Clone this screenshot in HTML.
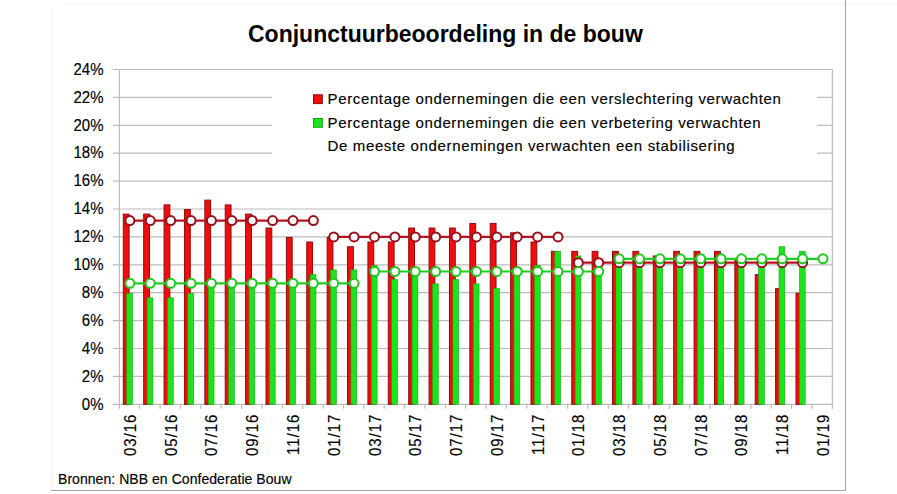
<!DOCTYPE html><html><head><meta charset="utf-8"><style>html,body{margin:0;padding:0;background:#fff;}svg{display:block;}text{font-family:"Liberation Sans",sans-serif;fill:#000;stroke:#000;stroke-width:0.15px;}</style></head><body>
<svg width="897" height="494" viewBox="0 0 897 494">
<rect width="897" height="494" fill="#fff"/>
<line x1="51.5" y1="7" x2="51.5" y2="491" stroke="#f7f7f7" stroke-width="2"/>
<rect x="64" y="1" width="833" height="5" fill="#fbfbfb"/>
<line x1="845.5" y1="0" x2="845.5" y2="491" stroke="#a8a8a8" stroke-width="1.2"/>
<line x1="51" y1="490.5" x2="846" y2="490.5" stroke="#a8a8a8" stroke-width="1.2"/>
<line x1="112.7" y1="404.30" x2="832.35" y2="404.30" stroke="#bcbcbc" stroke-width="1.2"/>
<line x1="112.7" y1="376.40" x2="832.35" y2="376.40" stroke="#bcbcbc" stroke-width="1.2"/>
<line x1="112.7" y1="348.50" x2="832.35" y2="348.50" stroke="#bcbcbc" stroke-width="1.2"/>
<line x1="112.7" y1="320.60" x2="832.35" y2="320.60" stroke="#bcbcbc" stroke-width="1.2"/>
<line x1="112.7" y1="292.70" x2="832.35" y2="292.70" stroke="#bcbcbc" stroke-width="1.2"/>
<line x1="112.7" y1="264.80" x2="832.35" y2="264.80" stroke="#bcbcbc" stroke-width="1.2"/>
<line x1="112.7" y1="236.90" x2="832.35" y2="236.90" stroke="#bcbcbc" stroke-width="1.2"/>
<line x1="112.7" y1="209.00" x2="832.35" y2="209.00" stroke="#bcbcbc" stroke-width="1.2"/>
<line x1="112.7" y1="181.10" x2="832.35" y2="181.10" stroke="#bcbcbc" stroke-width="1.2"/>
<line x1="112.7" y1="153.20" x2="832.35" y2="153.20" stroke="#bcbcbc" stroke-width="1.2"/>
<line x1="112.7" y1="125.30" x2="832.35" y2="125.30" stroke="#bcbcbc" stroke-width="1.2"/>
<line x1="112.7" y1="97.40" x2="832.35" y2="97.40" stroke="#bcbcbc" stroke-width="1.2"/>
<line x1="112.7" y1="69.50" x2="832.35" y2="69.50" stroke="#bcbcbc" stroke-width="1.2"/>
<line x1="119.40" y1="69.50" x2="119.40" y2="408.80" stroke="#bcbcbc" stroke-width="1.2"/>
<line x1="832.35" y1="69.50" x2="832.35" y2="408.80" stroke="#bcbcbc" stroke-width="1.2"/>
<line x1="139.77" y1="404.30" x2="139.77" y2="408.80" stroke="#bcbcbc" stroke-width="1.2"/>
<line x1="160.14" y1="404.30" x2="160.14" y2="408.80" stroke="#bcbcbc" stroke-width="1.2"/>
<line x1="180.51" y1="404.30" x2="180.51" y2="408.80" stroke="#bcbcbc" stroke-width="1.2"/>
<line x1="200.88" y1="404.30" x2="200.88" y2="408.80" stroke="#bcbcbc" stroke-width="1.2"/>
<line x1="221.25" y1="404.30" x2="221.25" y2="408.80" stroke="#bcbcbc" stroke-width="1.2"/>
<line x1="241.62" y1="404.30" x2="241.62" y2="408.80" stroke="#bcbcbc" stroke-width="1.2"/>
<line x1="261.99" y1="404.30" x2="261.99" y2="408.80" stroke="#bcbcbc" stroke-width="1.2"/>
<line x1="282.36" y1="404.30" x2="282.36" y2="408.80" stroke="#bcbcbc" stroke-width="1.2"/>
<line x1="302.73" y1="404.30" x2="302.73" y2="408.80" stroke="#bcbcbc" stroke-width="1.2"/>
<line x1="323.10" y1="404.30" x2="323.10" y2="408.80" stroke="#bcbcbc" stroke-width="1.2"/>
<line x1="343.47" y1="404.30" x2="343.47" y2="408.80" stroke="#bcbcbc" stroke-width="1.2"/>
<line x1="363.84" y1="404.30" x2="363.84" y2="408.80" stroke="#bcbcbc" stroke-width="1.2"/>
<line x1="384.21" y1="404.30" x2="384.21" y2="408.80" stroke="#bcbcbc" stroke-width="1.2"/>
<line x1="404.58" y1="404.30" x2="404.58" y2="408.80" stroke="#bcbcbc" stroke-width="1.2"/>
<line x1="424.95" y1="404.30" x2="424.95" y2="408.80" stroke="#bcbcbc" stroke-width="1.2"/>
<line x1="445.32" y1="404.30" x2="445.32" y2="408.80" stroke="#bcbcbc" stroke-width="1.2"/>
<line x1="465.69" y1="404.30" x2="465.69" y2="408.80" stroke="#bcbcbc" stroke-width="1.2"/>
<line x1="486.06" y1="404.30" x2="486.06" y2="408.80" stroke="#bcbcbc" stroke-width="1.2"/>
<line x1="506.43" y1="404.30" x2="506.43" y2="408.80" stroke="#bcbcbc" stroke-width="1.2"/>
<line x1="526.80" y1="404.30" x2="526.80" y2="408.80" stroke="#bcbcbc" stroke-width="1.2"/>
<line x1="547.17" y1="404.30" x2="547.17" y2="408.80" stroke="#bcbcbc" stroke-width="1.2"/>
<line x1="567.54" y1="404.30" x2="567.54" y2="408.80" stroke="#bcbcbc" stroke-width="1.2"/>
<line x1="587.91" y1="404.30" x2="587.91" y2="408.80" stroke="#bcbcbc" stroke-width="1.2"/>
<line x1="608.28" y1="404.30" x2="608.28" y2="408.80" stroke="#bcbcbc" stroke-width="1.2"/>
<line x1="628.65" y1="404.30" x2="628.65" y2="408.80" stroke="#bcbcbc" stroke-width="1.2"/>
<line x1="649.02" y1="404.30" x2="649.02" y2="408.80" stroke="#bcbcbc" stroke-width="1.2"/>
<line x1="669.39" y1="404.30" x2="669.39" y2="408.80" stroke="#bcbcbc" stroke-width="1.2"/>
<line x1="689.76" y1="404.30" x2="689.76" y2="408.80" stroke="#bcbcbc" stroke-width="1.2"/>
<line x1="710.13" y1="404.30" x2="710.13" y2="408.80" stroke="#bcbcbc" stroke-width="1.2"/>
<line x1="730.50" y1="404.30" x2="730.50" y2="408.80" stroke="#bcbcbc" stroke-width="1.2"/>
<line x1="750.87" y1="404.30" x2="750.87" y2="408.80" stroke="#bcbcbc" stroke-width="1.2"/>
<line x1="771.24" y1="404.30" x2="771.24" y2="408.80" stroke="#bcbcbc" stroke-width="1.2"/>
<line x1="791.61" y1="404.30" x2="791.61" y2="408.80" stroke="#bcbcbc" stroke-width="1.2"/>
<line x1="811.98" y1="404.30" x2="811.98" y2="408.80" stroke="#bcbcbc" stroke-width="1.2"/>
<rect x="123.30" y="214.10" width="5.80" height="190.20" fill="#f20c0c" stroke="#8e0c0c" stroke-width="1"/>
<rect x="143.69" y="214.10" width="5.80" height="190.20" fill="#f20c0c" stroke="#8e0c0c" stroke-width="1"/>
<rect x="164.07" y="204.90" width="5.80" height="199.40" fill="#f20c0c" stroke="#8e0c0c" stroke-width="1"/>
<rect x="184.46" y="209.50" width="5.80" height="194.80" fill="#f20c0c" stroke="#8e0c0c" stroke-width="1"/>
<rect x="204.84" y="200.15" width="5.80" height="204.15" fill="#f20c0c" stroke="#8e0c0c" stroke-width="1"/>
<rect x="225.23" y="204.90" width="5.80" height="199.40" fill="#f20c0c" stroke="#8e0c0c" stroke-width="1"/>
<rect x="245.61" y="214.10" width="5.80" height="190.20" fill="#f20c0c" stroke="#8e0c0c" stroke-width="1"/>
<rect x="266.00" y="228.05" width="5.80" height="176.25" fill="#f20c0c" stroke="#8e0c0c" stroke-width="1"/>
<rect x="286.38" y="237.40" width="5.80" height="166.90" fill="#f20c0c" stroke="#8e0c0c" stroke-width="1"/>
<rect x="306.76" y="242.00" width="5.80" height="162.30" fill="#f20c0c" stroke="#8e0c0c" stroke-width="1"/>
<rect x="327.15" y="237.40" width="5.80" height="166.90" fill="#f20c0c" stroke="#8e0c0c" stroke-width="1"/>
<rect x="347.53" y="246.75" width="5.80" height="157.55" fill="#f20c0c" stroke="#8e0c0c" stroke-width="1"/>
<rect x="367.92" y="242.00" width="5.80" height="162.30" fill="#f20c0c" stroke="#8e0c0c" stroke-width="1"/>
<rect x="388.30" y="242.00" width="5.80" height="162.30" fill="#f20c0c" stroke="#8e0c0c" stroke-width="1"/>
<rect x="408.69" y="228.05" width="5.80" height="176.25" fill="#f20c0c" stroke="#8e0c0c" stroke-width="1"/>
<rect x="429.08" y="228.05" width="5.80" height="176.25" fill="#f20c0c" stroke="#8e0c0c" stroke-width="1"/>
<rect x="449.46" y="228.05" width="5.80" height="176.25" fill="#f20c0c" stroke="#8e0c0c" stroke-width="1"/>
<rect x="469.85" y="223.45" width="5.80" height="180.85" fill="#f20c0c" stroke="#8e0c0c" stroke-width="1"/>
<rect x="490.23" y="223.45" width="5.80" height="180.85" fill="#f20c0c" stroke="#8e0c0c" stroke-width="1"/>
<rect x="510.62" y="232.80" width="5.80" height="171.50" fill="#f20c0c" stroke="#8e0c0c" stroke-width="1"/>
<rect x="531.00" y="242.00" width="5.80" height="162.30" fill="#f20c0c" stroke="#8e0c0c" stroke-width="1"/>
<rect x="551.38" y="251.35" width="5.80" height="152.95" fill="#f20c0c" stroke="#8e0c0c" stroke-width="1"/>
<rect x="571.77" y="251.35" width="5.80" height="152.95" fill="#f20c0c" stroke="#8e0c0c" stroke-width="1"/>
<rect x="592.15" y="251.35" width="5.80" height="152.95" fill="#f20c0c" stroke="#8e0c0c" stroke-width="1"/>
<rect x="612.54" y="251.35" width="5.80" height="152.95" fill="#f20c0c" stroke="#8e0c0c" stroke-width="1"/>
<rect x="632.93" y="251.35" width="5.80" height="152.95" fill="#f20c0c" stroke="#8e0c0c" stroke-width="1"/>
<rect x="653.31" y="255.95" width="5.80" height="148.35" fill="#f20c0c" stroke="#8e0c0c" stroke-width="1"/>
<rect x="673.70" y="251.35" width="5.80" height="152.95" fill="#f20c0c" stroke="#8e0c0c" stroke-width="1"/>
<rect x="694.08" y="251.35" width="5.80" height="152.95" fill="#f20c0c" stroke="#8e0c0c" stroke-width="1"/>
<rect x="714.47" y="251.35" width="5.80" height="152.95" fill="#f20c0c" stroke="#8e0c0c" stroke-width="1"/>
<rect x="734.85" y="260.70" width="5.80" height="143.60" fill="#f20c0c" stroke="#8e0c0c" stroke-width="1"/>
<rect x="755.24" y="274.65" width="5.80" height="129.65" fill="#f20c0c" stroke="#8e0c0c" stroke-width="1"/>
<rect x="775.62" y="288.60" width="5.80" height="115.70" fill="#f20c0c" stroke="#8e0c0c" stroke-width="1"/>
<rect x="796.00" y="293.20" width="5.80" height="111.10" fill="#f20c0c" stroke="#8e0c0c" stroke-width="1"/>
<rect x="126.70" y="293.20" width="5.80" height="111.10" fill="#1ce41c" stroke="#13a813" stroke-width="0.6"/>
<rect x="147.09" y="297.80" width="5.80" height="106.50" fill="#1ce41c" stroke="#13a813" stroke-width="0.6"/>
<rect x="167.47" y="297.80" width="5.80" height="106.50" fill="#1ce41c" stroke="#13a813" stroke-width="0.6"/>
<rect x="187.86" y="293.20" width="5.80" height="111.10" fill="#1ce41c" stroke="#13a813" stroke-width="0.6"/>
<rect x="208.24" y="283.85" width="5.80" height="120.45" fill="#1ce41c" stroke="#13a813" stroke-width="0.6"/>
<rect x="228.63" y="283.85" width="5.80" height="120.45" fill="#1ce41c" stroke="#13a813" stroke-width="0.6"/>
<rect x="249.01" y="283.85" width="5.80" height="120.45" fill="#1ce41c" stroke="#13a813" stroke-width="0.6"/>
<rect x="269.40" y="283.85" width="5.80" height="120.45" fill="#1ce41c" stroke="#13a813" stroke-width="0.6"/>
<rect x="289.78" y="283.85" width="5.80" height="120.45" fill="#1ce41c" stroke="#13a813" stroke-width="0.6"/>
<rect x="310.17" y="274.65" width="5.80" height="129.65" fill="#1ce41c" stroke="#13a813" stroke-width="0.6"/>
<rect x="330.55" y="269.90" width="5.80" height="134.40" fill="#1ce41c" stroke="#13a813" stroke-width="0.6"/>
<rect x="350.94" y="269.90" width="5.80" height="134.40" fill="#1ce41c" stroke="#13a813" stroke-width="0.6"/>
<rect x="371.32" y="265.30" width="5.80" height="139.00" fill="#1ce41c" stroke="#13a813" stroke-width="0.6"/>
<rect x="391.70" y="279.25" width="5.80" height="125.05" fill="#1ce41c" stroke="#13a813" stroke-width="0.6"/>
<rect x="412.09" y="272.27" width="5.80" height="132.03" fill="#1ce41c" stroke="#13a813" stroke-width="0.6"/>
<rect x="432.48" y="283.85" width="5.80" height="120.45" fill="#1ce41c" stroke="#13a813" stroke-width="0.6"/>
<rect x="452.86" y="279.25" width="5.80" height="125.05" fill="#1ce41c" stroke="#13a813" stroke-width="0.6"/>
<rect x="473.25" y="283.85" width="5.80" height="120.45" fill="#1ce41c" stroke="#13a813" stroke-width="0.6"/>
<rect x="493.63" y="288.60" width="5.80" height="115.70" fill="#1ce41c" stroke="#13a813" stroke-width="0.6"/>
<rect x="514.01" y="272.27" width="5.80" height="132.03" fill="#1ce41c" stroke="#13a813" stroke-width="0.6"/>
<rect x="534.40" y="265.30" width="5.80" height="139.00" fill="#1ce41c" stroke="#13a813" stroke-width="0.6"/>
<rect x="554.78" y="251.35" width="5.80" height="152.95" fill="#1ce41c" stroke="#13a813" stroke-width="0.6"/>
<rect x="575.17" y="255.95" width="5.80" height="148.35" fill="#1ce41c" stroke="#13a813" stroke-width="0.6"/>
<rect x="595.55" y="268.09" width="5.80" height="136.21" fill="#1ce41c" stroke="#13a813" stroke-width="0.6"/>
<rect x="615.94" y="260.70" width="5.80" height="143.60" fill="#1ce41c" stroke="#13a813" stroke-width="0.6"/>
<rect x="636.33" y="260.70" width="5.80" height="143.60" fill="#1ce41c" stroke="#13a813" stroke-width="0.6"/>
<rect x="656.71" y="260.70" width="5.80" height="143.60" fill="#1ce41c" stroke="#13a813" stroke-width="0.6"/>
<rect x="677.10" y="260.70" width="5.80" height="143.60" fill="#1ce41c" stroke="#13a813" stroke-width="0.6"/>
<rect x="697.48" y="260.70" width="5.80" height="143.60" fill="#1ce41c" stroke="#13a813" stroke-width="0.6"/>
<rect x="717.87" y="260.70" width="5.80" height="143.60" fill="#1ce41c" stroke="#13a813" stroke-width="0.6"/>
<rect x="738.25" y="260.70" width="5.80" height="143.60" fill="#1ce41c" stroke="#13a813" stroke-width="0.6"/>
<rect x="758.63" y="260.70" width="5.80" height="143.60" fill="#1ce41c" stroke="#13a813" stroke-width="0.6"/>
<rect x="779.02" y="246.75" width="5.80" height="157.55" fill="#1ce41c" stroke="#13a813" stroke-width="0.6"/>
<rect x="799.40" y="251.35" width="5.80" height="152.95" fill="#1ce41c" stroke="#13a813" stroke-width="0.6"/>
<line x1="129.90" y1="220.58" x2="313.37" y2="220.58" stroke="#b8121e" stroke-width="2.2"/>
<circle cx="129.90" cy="220.58" r="4.5" fill="#fff" stroke="#9a0f1c" stroke-width="2"/>
<circle cx="150.28" cy="220.58" r="4.5" fill="#fff" stroke="#9a0f1c" stroke-width="2"/>
<circle cx="170.67" cy="220.58" r="4.5" fill="#fff" stroke="#9a0f1c" stroke-width="2"/>
<circle cx="191.06" cy="220.58" r="4.5" fill="#fff" stroke="#9a0f1c" stroke-width="2"/>
<circle cx="211.44" cy="220.58" r="4.5" fill="#fff" stroke="#9a0f1c" stroke-width="2"/>
<circle cx="231.83" cy="220.58" r="4.5" fill="#fff" stroke="#9a0f1c" stroke-width="2"/>
<circle cx="252.21" cy="220.58" r="4.5" fill="#fff" stroke="#9a0f1c" stroke-width="2"/>
<circle cx="272.60" cy="220.58" r="4.5" fill="#fff" stroke="#9a0f1c" stroke-width="2"/>
<circle cx="292.98" cy="220.58" r="4.5" fill="#fff" stroke="#9a0f1c" stroke-width="2"/>
<circle cx="313.37" cy="220.58" r="4.5" fill="#fff" stroke="#9a0f1c" stroke-width="2"/>
<line x1="333.75" y1="236.90" x2="557.99" y2="236.90" stroke="#b8121e" stroke-width="2.2"/>
<circle cx="333.75" cy="236.90" r="4.5" fill="#fff" stroke="#9a0f1c" stroke-width="2"/>
<circle cx="354.13" cy="236.90" r="4.5" fill="#fff" stroke="#9a0f1c" stroke-width="2"/>
<circle cx="374.52" cy="236.90" r="4.5" fill="#fff" stroke="#9a0f1c" stroke-width="2"/>
<circle cx="394.90" cy="236.90" r="4.5" fill="#fff" stroke="#9a0f1c" stroke-width="2"/>
<circle cx="415.29" cy="236.90" r="4.5" fill="#fff" stroke="#9a0f1c" stroke-width="2"/>
<circle cx="435.68" cy="236.90" r="4.5" fill="#fff" stroke="#9a0f1c" stroke-width="2"/>
<circle cx="456.06" cy="236.90" r="4.5" fill="#fff" stroke="#9a0f1c" stroke-width="2"/>
<circle cx="476.45" cy="236.90" r="4.5" fill="#fff" stroke="#9a0f1c" stroke-width="2"/>
<circle cx="496.83" cy="236.90" r="4.5" fill="#fff" stroke="#9a0f1c" stroke-width="2"/>
<circle cx="517.22" cy="236.90" r="4.5" fill="#fff" stroke="#9a0f1c" stroke-width="2"/>
<circle cx="537.60" cy="236.90" r="4.5" fill="#fff" stroke="#9a0f1c" stroke-width="2"/>
<circle cx="557.99" cy="236.90" r="4.5" fill="#fff" stroke="#9a0f1c" stroke-width="2"/>
<line x1="578.37" y1="262.71" x2="802.61" y2="262.71" stroke="#b8121e" stroke-width="2.2"/>
<circle cx="578.37" cy="262.71" r="4.5" fill="#fff" stroke="#9a0f1c" stroke-width="2"/>
<circle cx="598.75" cy="262.71" r="4.5" fill="#fff" stroke="#9a0f1c" stroke-width="2"/>
<circle cx="619.14" cy="262.71" r="4.5" fill="#fff" stroke="#9a0f1c" stroke-width="2"/>
<circle cx="639.53" cy="262.71" r="4.5" fill="#fff" stroke="#9a0f1c" stroke-width="2"/>
<circle cx="659.91" cy="262.71" r="4.5" fill="#fff" stroke="#9a0f1c" stroke-width="2"/>
<circle cx="680.30" cy="262.71" r="4.5" fill="#fff" stroke="#9a0f1c" stroke-width="2"/>
<circle cx="700.68" cy="262.71" r="4.5" fill="#fff" stroke="#9a0f1c" stroke-width="2"/>
<circle cx="721.07" cy="262.71" r="4.5" fill="#fff" stroke="#9a0f1c" stroke-width="2"/>
<circle cx="741.45" cy="262.71" r="4.5" fill="#fff" stroke="#9a0f1c" stroke-width="2"/>
<circle cx="761.84" cy="262.71" r="4.5" fill="#fff" stroke="#9a0f1c" stroke-width="2"/>
<circle cx="782.22" cy="262.71" r="4.5" fill="#fff" stroke="#9a0f1c" stroke-width="2"/>
<circle cx="802.61" cy="262.71" r="4.5" fill="#fff" stroke="#9a0f1c" stroke-width="2"/>
<line x1="129.90" y1="283.35" x2="354.13" y2="283.35" stroke="#22cc22" stroke-width="2.2"/>
<circle cx="129.90" cy="283.35" r="4.5" fill="#fff" stroke="#20c820" stroke-width="2"/>
<circle cx="150.28" cy="283.35" r="4.5" fill="#fff" stroke="#20c820" stroke-width="2"/>
<circle cx="170.67" cy="283.35" r="4.5" fill="#fff" stroke="#20c820" stroke-width="2"/>
<circle cx="191.06" cy="283.35" r="4.5" fill="#fff" stroke="#20c820" stroke-width="2"/>
<circle cx="211.44" cy="283.35" r="4.5" fill="#fff" stroke="#20c820" stroke-width="2"/>
<circle cx="231.83" cy="283.35" r="4.5" fill="#fff" stroke="#20c820" stroke-width="2"/>
<circle cx="252.21" cy="283.35" r="4.5" fill="#fff" stroke="#20c820" stroke-width="2"/>
<circle cx="272.60" cy="283.35" r="4.5" fill="#fff" stroke="#20c820" stroke-width="2"/>
<circle cx="292.98" cy="283.35" r="4.5" fill="#fff" stroke="#20c820" stroke-width="2"/>
<circle cx="313.37" cy="283.35" r="4.5" fill="#fff" stroke="#20c820" stroke-width="2"/>
<circle cx="333.75" cy="283.35" r="4.5" fill="#fff" stroke="#20c820" stroke-width="2"/>
<circle cx="354.13" cy="283.35" r="4.5" fill="#fff" stroke="#20c820" stroke-width="2"/>
<line x1="374.52" y1="271.50" x2="598.75" y2="271.50" stroke="#22cc22" stroke-width="2.2"/>
<circle cx="374.52" cy="271.50" r="4.5" fill="#fff" stroke="#20c820" stroke-width="2"/>
<circle cx="394.90" cy="271.50" r="4.5" fill="#fff" stroke="#20c820" stroke-width="2"/>
<circle cx="415.29" cy="271.50" r="4.5" fill="#fff" stroke="#20c820" stroke-width="2"/>
<circle cx="435.68" cy="271.50" r="4.5" fill="#fff" stroke="#20c820" stroke-width="2"/>
<circle cx="456.06" cy="271.50" r="4.5" fill="#fff" stroke="#20c820" stroke-width="2"/>
<circle cx="476.45" cy="271.50" r="4.5" fill="#fff" stroke="#20c820" stroke-width="2"/>
<circle cx="496.83" cy="271.50" r="4.5" fill="#fff" stroke="#20c820" stroke-width="2"/>
<circle cx="517.22" cy="271.50" r="4.5" fill="#fff" stroke="#20c820" stroke-width="2"/>
<circle cx="537.60" cy="271.50" r="4.5" fill="#fff" stroke="#20c820" stroke-width="2"/>
<circle cx="557.99" cy="271.50" r="4.5" fill="#fff" stroke="#20c820" stroke-width="2"/>
<circle cx="578.37" cy="271.50" r="4.5" fill="#fff" stroke="#20c820" stroke-width="2"/>
<circle cx="598.75" cy="271.50" r="4.5" fill="#fff" stroke="#20c820" stroke-width="2"/>
<line x1="619.14" y1="258.80" x2="822.99" y2="258.80" stroke="#22cc22" stroke-width="2.2"/>
<circle cx="619.14" cy="258.80" r="4.5" fill="#fff" stroke="#20c820" stroke-width="2"/>
<circle cx="639.53" cy="258.80" r="4.5" fill="#fff" stroke="#20c820" stroke-width="2"/>
<circle cx="659.91" cy="258.80" r="4.5" fill="#fff" stroke="#20c820" stroke-width="2"/>
<circle cx="680.30" cy="258.80" r="4.5" fill="#fff" stroke="#20c820" stroke-width="2"/>
<circle cx="700.68" cy="258.80" r="4.5" fill="#fff" stroke="#20c820" stroke-width="2"/>
<circle cx="721.07" cy="258.80" r="4.5" fill="#fff" stroke="#20c820" stroke-width="2"/>
<circle cx="741.45" cy="258.80" r="4.5" fill="#fff" stroke="#20c820" stroke-width="2"/>
<circle cx="761.84" cy="258.80" r="4.5" fill="#fff" stroke="#20c820" stroke-width="2"/>
<circle cx="782.22" cy="258.80" r="4.5" fill="#fff" stroke="#20c820" stroke-width="2"/>
<circle cx="802.61" cy="258.80" r="4.5" fill="#fff" stroke="#20c820" stroke-width="2"/>
<circle cx="822.99" cy="258.80" r="4.5" fill="#fff" stroke="#20c820" stroke-width="2"/>
<rect x="272" y="84" width="545" height="84" fill="#fff"/>
<rect x="313.5" y="94.8" width="8.8" height="8.8" fill="#f20c0c" stroke="#8e0c0c" stroke-width="1"/>
<rect x="313.5" y="118.5" width="8.8" height="8.8" fill="#1ce41c" stroke="#13a813" stroke-width="1"/>
<text x="327.5" y="104" font-size="15" letter-spacing="0.64">Percentage ondernemingen die een verslechtering verwachten</text>
<text x="327.5" y="127.5" font-size="15" letter-spacing="0.64">Percentage ondernemingen die een verbetering verwachten</text>
<text x="327.5" y="151" font-size="15" letter-spacing="0.64">De meeste ondernemingen verwachten een stabilisering</text>
<text transform="translate(103.5,409.50) scale(1,1.12)" font-size="15" text-anchor="end">0%</text>
<text transform="translate(103.5,381.60) scale(1,1.12)" font-size="15" text-anchor="end">2%</text>
<text transform="translate(103.5,353.70) scale(1,1.12)" font-size="15" text-anchor="end">4%</text>
<text transform="translate(103.5,325.80) scale(1,1.12)" font-size="15" text-anchor="end">6%</text>
<text transform="translate(103.5,297.90) scale(1,1.12)" font-size="15" text-anchor="end">8%</text>
<text transform="translate(103.5,270.00) scale(1,1.12)" font-size="15" text-anchor="end">10%</text>
<text transform="translate(103.5,242.10) scale(1,1.12)" font-size="15" text-anchor="end">12%</text>
<text transform="translate(103.5,214.20) scale(1,1.12)" font-size="15" text-anchor="end">14%</text>
<text transform="translate(103.5,186.30) scale(1,1.12)" font-size="15" text-anchor="end">16%</text>
<text transform="translate(103.5,158.40) scale(1,1.12)" font-size="15" text-anchor="end">18%</text>
<text transform="translate(103.5,130.50) scale(1,1.12)" font-size="15" text-anchor="end">20%</text>
<text transform="translate(103.5,102.60) scale(1,1.12)" font-size="15" text-anchor="end">22%</text>
<text transform="translate(103.5,74.70) scale(1,1.12)" font-size="15" text-anchor="end">24%</text>
<text transform="translate(135.90,413.6) rotate(-90) scale(1,1.07)" font-size="15" letter-spacing="1" text-anchor="end">03/16</text>
<text transform="translate(176.67,413.6) rotate(-90) scale(1,1.07)" font-size="15" letter-spacing="1" text-anchor="end">05/16</text>
<text transform="translate(217.44,413.6) rotate(-90) scale(1,1.07)" font-size="15" letter-spacing="1" text-anchor="end">07/16</text>
<text transform="translate(258.21,413.6) rotate(-90) scale(1,1.07)" font-size="15" letter-spacing="1" text-anchor="end">09/16</text>
<text transform="translate(298.98,413.6) rotate(-90) scale(1,1.07)" font-size="15" letter-spacing="1" text-anchor="end">11/16</text>
<text transform="translate(339.75,413.6) rotate(-90) scale(1,1.07)" font-size="15" letter-spacing="1" text-anchor="end">01/17</text>
<text transform="translate(380.52,413.6) rotate(-90) scale(1,1.07)" font-size="15" letter-spacing="1" text-anchor="end">03/17</text>
<text transform="translate(421.29,413.6) rotate(-90) scale(1,1.07)" font-size="15" letter-spacing="1" text-anchor="end">05/17</text>
<text transform="translate(462.06,413.6) rotate(-90) scale(1,1.07)" font-size="15" letter-spacing="1" text-anchor="end">07/17</text>
<text transform="translate(502.83,413.6) rotate(-90) scale(1,1.07)" font-size="15" letter-spacing="1" text-anchor="end">09/17</text>
<text transform="translate(543.60,413.6) rotate(-90) scale(1,1.07)" font-size="15" letter-spacing="1" text-anchor="end">11/17</text>
<text transform="translate(584.37,413.6) rotate(-90) scale(1,1.07)" font-size="15" letter-spacing="1" text-anchor="end">01/18</text>
<text transform="translate(625.14,413.6) rotate(-90) scale(1,1.07)" font-size="15" letter-spacing="1" text-anchor="end">03/18</text>
<text transform="translate(665.91,413.6) rotate(-90) scale(1,1.07)" font-size="15" letter-spacing="1" text-anchor="end">05/18</text>
<text transform="translate(706.68,413.6) rotate(-90) scale(1,1.07)" font-size="15" letter-spacing="1" text-anchor="end">07/18</text>
<text transform="translate(747.45,413.6) rotate(-90) scale(1,1.07)" font-size="15" letter-spacing="1" text-anchor="end">09/18</text>
<text transform="translate(788.22,413.6) rotate(-90) scale(1,1.07)" font-size="15" letter-spacing="1" text-anchor="end">11/18</text>
<text transform="translate(828.99,413.6) rotate(-90) scale(1,1.07)" font-size="15" letter-spacing="1" text-anchor="end">01/19</text>
<text x="248" y="41.8" font-size="23" font-weight="bold" style="stroke-width:0">Conjunctuurbeoordeling in de bouw</text>
<text x="58" y="484" font-size="14" letter-spacing="0.05">Bronnen: NBB en Confederatie Bouw</text>
</svg></body></html>
